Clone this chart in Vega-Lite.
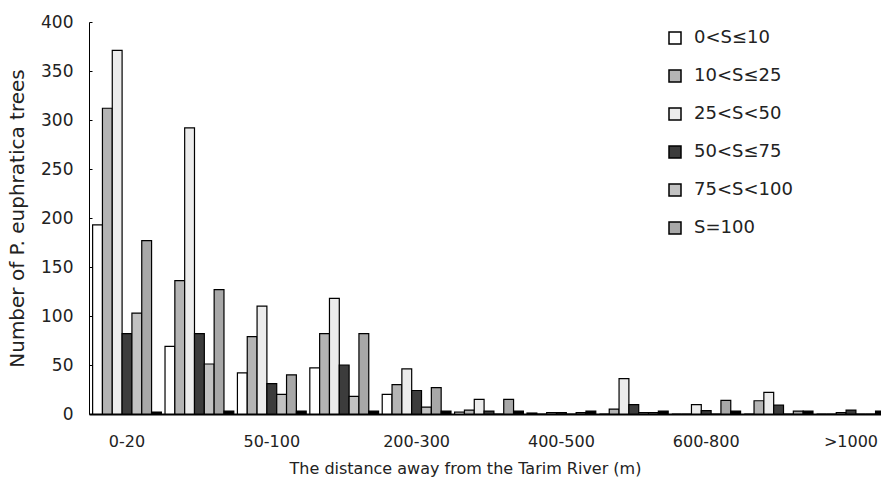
{
  "$schema": "https://vega.github.io/schema/vega-lite/v6.json",
  "autosize": {"type": "none"},
  "width": 800,
  "height": 392,
  "padding": {"left": 89, "top": 22, "right": 0, "bottom": 75},
  "background": "white",
  "config": {
    "view": {"stroke": null},
    "font": "DejaVu Sans",
    "axis": {"labelColor": "#222", "titleColor": "#222", "domainColor": "black", "tickColor": "black", "grid": false, "labelFont": "DejaVu Sans", "titleFont": "DejaVu Sans", "titleFontWeight": "normal"},
    "legend": {"labelFont": "DejaVu Sans", "labelColor": "#222"}
  },
  "data": {"values": [
    {"d": "0-20", "s": "0<S≤10", "n": 193}, {"d": "0-20", "s": "10<S≤25", "n": 312}, {"d": "0-20", "s": "25<S<50", "n": 371}, {"d": "0-20", "s": "50<S≤75", "n": 82}, {"d": "0-20", "s": "75<S<100", "n": 103}, {"d": "0-20", "s": "S=100", "n": 177}, {"d": "0-20", "s": "gap", "n": 2},
    {"d": "20-50", "s": "0<S≤10", "n": 69}, {"d": "20-50", "s": "10<S≤25", "n": 136}, {"d": "20-50", "s": "25<S<50", "n": 292}, {"d": "20-50", "s": "50<S≤75", "n": 82}, {"d": "20-50", "s": "75<S<100", "n": 51}, {"d": "20-50", "s": "S=100", "n": 127}, {"d": "20-50", "s": "gap", "n": 3},
    {"d": "50-100", "s": "0<S≤10", "n": 42}, {"d": "50-100", "s": "10<S≤25", "n": 79}, {"d": "50-100", "s": "25<S<50", "n": 110}, {"d": "50-100", "s": "50<S≤75", "n": 31}, {"d": "50-100", "s": "75<S<100", "n": 20}, {"d": "50-100", "s": "S=100", "n": 40}, {"d": "50-100", "s": "gap", "n": 3},
    {"d": "100-200", "s": "0<S≤10", "n": 47}, {"d": "100-200", "s": "10<S≤25", "n": 82}, {"d": "100-200", "s": "25<S<50", "n": 118}, {"d": "100-200", "s": "50<S≤75", "n": 50}, {"d": "100-200", "s": "75<S<100", "n": 18}, {"d": "100-200", "s": "S=100", "n": 82}, {"d": "100-200", "s": "gap", "n": 3},
    {"d": "200-300", "s": "0<S≤10", "n": 20}, {"d": "200-300", "s": "10<S≤25", "n": 30}, {"d": "200-300", "s": "25<S<50", "n": 46}, {"d": "200-300", "s": "50<S≤75", "n": 24}, {"d": "200-300", "s": "75<S<100", "n": 7}, {"d": "200-300", "s": "S=100", "n": 27}, {"d": "200-300", "s": "gap", "n": 3},
    {"d": "300-400", "s": "0<S≤10", "n": 2}, {"d": "300-400", "s": "10<S≤25", "n": 4}, {"d": "300-400", "s": "25<S<50", "n": 15}, {"d": "300-400", "s": "50<S≤75", "n": 3}, {"d": "300-400", "s": "75<S<100", "n": 0}, {"d": "300-400", "s": "S=100", "n": 15}, {"d": "300-400", "s": "gap", "n": 3},
    {"d": "400-500", "s": "0<S≤10", "n": 1}, {"d": "400-500", "s": "10<S≤25", "n": 0}, {"d": "400-500", "s": "25<S<50", "n": 1.5}, {"d": "400-500", "s": "50<S≤75", "n": 1.5}, {"d": "400-500", "s": "75<S<100", "n": 0}, {"d": "400-500", "s": "S=100", "n": 1.5}, {"d": "400-500", "s": "gap", "n": 3},
    {"d": "500-600", "s": "0<S≤10", "n": 0}, {"d": "500-600", "s": "10<S≤25", "n": 5}, {"d": "500-600", "s": "25<S<50", "n": 36}, {"d": "500-600", "s": "50<S≤75", "n": 9.5}, {"d": "500-600", "s": "75<S<100", "n": 1.5}, {"d": "500-600", "s": "S=100", "n": 1.5}, {"d": "500-600", "s": "gap", "n": 3},
    {"d": "600-800", "s": "0<S≤10", "n": 0}, {"d": "600-800", "s": "10<S≤25", "n": 0}, {"d": "600-800", "s": "25<S<50", "n": 9.5}, {"d": "600-800", "s": "50<S≤75", "n": 3.5}, {"d": "600-800", "s": "75<S<100", "n": 0}, {"d": "600-800", "s": "S=100", "n": 14}, {"d": "600-800", "s": "gap", "n": 3},
    {"d": "800-1000", "s": "0<S≤10", "n": 0}, {"d": "800-1000", "s": "10<S≤25", "n": 13.5}, {"d": "800-1000", "s": "25<S<50", "n": 22}, {"d": "800-1000", "s": "50<S≤75", "n": 9}, {"d": "800-1000", "s": "75<S<100", "n": 0}, {"d": "800-1000", "s": "S=100", "n": 3}, {"d": "800-1000", "s": "gap", "n": 3},
    {"d": ">1000", "s": "0<S≤10", "n": 0}, {"d": ">1000", "s": "10<S≤25", "n": 0}, {"d": ">1000", "s": "25<S<50", "n": 1.5}, {"d": ">1000", "s": "50<S≤75", "n": 4}, {"d": ">1000", "s": "75<S<100", "n": 0}, {"d": ">1000", "s": "S=100", "n": 0}, {"d": ">1000", "s": "gap", "n": 3}
  ]},
  "mark": {"type": "bar", "stroke": "black", "strokeWidth": 1.2},
  "encoding": {
    "x": {
      "field": "d", "type": "nominal",
      "sort": ["0-20", "20-50", "50-100", "100-200", "200-300", "300-400", "400-500", "500-600", "600-800", "800-1000", ">1000"],
      "scale": {"paddingInner": 0.05, "paddingOuter": 0.05},
      "axis": {
        "values": ["0-20", "50-100", "200-300", "400-500", "600-800", ">1000"],
        "labelAngle": 0, "ticks": false, "domainWidth": 2, "labelFontSize": 16, "labelPadding": 19, "labelDx": -4,
        "title": "The distance away from the Tarim River (m)", "titleFontSize": 16, "titlePadding": 11, "titleX": 376
      }
    },
    "xOffset": {
      "field": "s", "type": "nominal",
      "sort": ["0<S≤10", "10<S≤25", "25<S<50", "50<S≤75", "75<S<100", "S=100", "gap"],
      "scale": {"paddingInner": 0, "paddingOuter": 0}
    },
    "y": {
      "field": "n", "type": "quantitative",
      "scale": {"domain": [0, 400], "nice": false},
      "axis": {
        "values": [0, 50, 100, 150, 200, 250, 300, 350, 400],
        "tickSize": -3, "labelFontSize": 17, "labelPadding": 19, "domainWidth": 1,
        "title": "Number of P. euphratica trees", "titleFontSize": 20, "titlePadding": 13
      }
    },
    "color": {
      "field": "s", "type": "nominal",
      "scale": {
        "domain": ["0<S≤10", "10<S≤25", "25<S<50", "50<S≤75", "75<S<100", "S=100", "gap"],
        "range": ["#ffffff", "#b4b4b4", "#ececec", "#3c3c3c", "#c2c2c2", "#a8a8a8", "#000000"]
      },
      "legend": {
        "values": ["0<S≤10", "10<S≤25", "25<S<50", "50<S≤75", "75<S<100", "S=100"],
        "title": null, "orient": "none", "legendX": 577, "legendY": 7, "padding": 0,
        "symbolType": "square", "symbolSize": 144, "symbolStrokeColor": "black", "symbolStrokeWidth": 1.5,
        "labelFontSize": 18, "labelOffset": 10, "rowPadding": 20
      }
    }
  }
}
